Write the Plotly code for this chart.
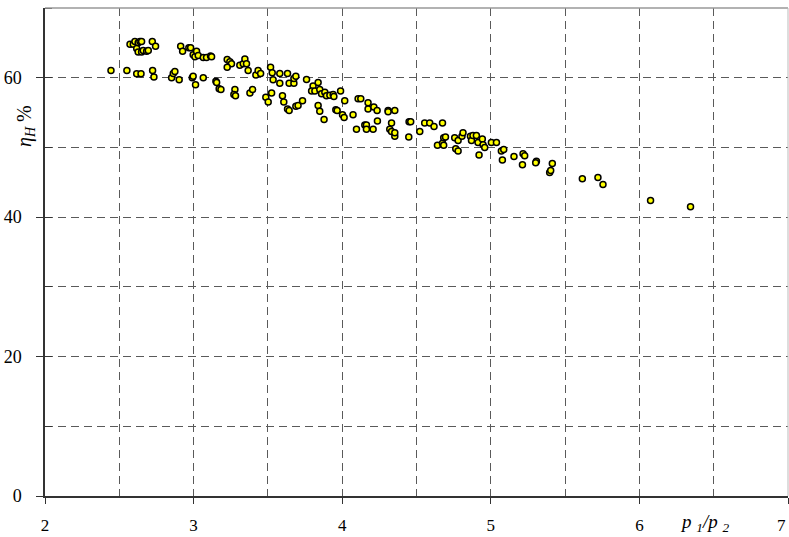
import plotly.graph_objects as go

# pressure ratio p1/p2
pressure_ratio = [
    2.444, 2.551, 2.617, 2.646, 2.724, 2.733,
    2.572, 2.594, 2.605, 2.627, 2.639, 2.650, 2.617, 2.627, 2.650, 2.661, 2.684, 2.695, 2.722, 2.744,
    2.852, 2.863, 2.874, 2.903, 2.913, 2.926, 2.968, 2.980, 2.991, 2.997, 3.013, 3.065,
    2.997, 3.009, 3.020, 3.031, 3.065, 3.087, 3.114, 3.121,
    3.150, 3.155, 3.172, 3.184, 3.226, 3.244, 3.255, 3.226, 3.278, 3.271, 3.282,
    3.311, 3.334, 3.345, 3.356, 3.367, 3.379, 3.397, 3.419, 3.434, 3.451,
    3.486, 3.502, 3.525, 3.518, 3.529, 3.535, 3.580, 3.632, 3.580, 3.643, 3.675, 3.675, 3.688,
    3.598, 3.607, 3.632, 3.643, 3.688, 3.703,
    3.760, 3.733, 3.804, 3.794, 3.816, 3.838, 3.849, 3.861, 3.883, 3.894, 3.917, 3.939, 3.944, 3.989,
    3.838, 3.849, 3.878, 3.957, 3.966, 4.002, 4.013, 4.017, 4.073, 4.096, 4.107, 4.125,
    4.152, 4.163, 4.163, 4.174, 4.174, 4.208, 4.213, 4.235, 4.237, 4.309, 4.309, 4.354,
    4.320, 4.332, 4.332, 4.354, 4.354, 4.450, 4.461, 4.448, 4.522, 4.555, 4.589, 4.618, 4.675,
    4.641, 4.675, 4.683, 4.683, 4.695, 4.757, 4.780, 4.806, 4.813, 4.764, 4.780,
    4.863, 4.870, 4.880, 4.903, 4.914, 4.943, 4.921, 4.948, 4.959, 5.004, 5.038,
    5.071, 5.087, 5.078, 5.156, 5.217, 5.228, 5.213, 5.307, 5.302, 5.396, 5.403, 5.414,
    5.616, 5.721, 5.755, 6.075, 6.344,
]

# efficiency eta_H, %
efficiency = [
    61.05, 61.05, 60.58, 60.58, 61.05, 60.1,
    64.8, 64.8, 65.2, 65.0, 65.2, 65.2, 64.2, 63.7, 63.7, 63.9, 63.8, 63.9, 65.2, 64.5,
    60.0, 60.6, 60.9, 59.7, 64.5, 63.8, 64.3, 64.3, 60.0, 60.2, 59.0, 60.0,
    63.3, 63.0, 63.8, 63.2, 62.9, 62.9, 63.1, 63.0,
    59.5, 59.3, 58.4, 58.3, 62.6, 62.3, 62.0, 61.5, 58.3, 57.6, 57.4,
    61.8, 62.0, 62.7, 62.0, 61.05, 57.8, 58.3, 60.4, 61.05, 60.6,
    57.2, 56.5, 57.8, 61.5, 60.7, 59.7, 60.6, 60.6, 59.2, 59.2, 59.2, 59.9, 60.2,
    57.4, 56.5, 55.5, 55.3, 55.9, 56.0,
    59.76, 56.7, 58.8, 58.1, 58.1, 59.3, 58.3, 57.7, 57.9, 57.4, 57.5, 57.6, 57.3, 58.1,
    56.0, 55.2, 54.0, 55.4, 55.3, 54.7, 54.3, 56.7, 54.7, 52.6, 57.0, 57.0,
    53.2, 53.2, 52.6, 56.4, 55.5, 52.6, 55.8, 55.3, 53.8, 55.3, 55.1, 55.3,
    52.6, 53.5, 52.3, 51.6, 52.1, 53.7, 53.7, 51.5, 52.3, 53.5, 53.5, 53.0, 53.5,
    50.3, 50.6, 50.3, 51.4, 51.5, 51.4, 51.0, 51.6, 52.1, 49.8, 49.5,
    51.6, 51.0, 51.7, 51.7, 50.7, 51.2, 48.9, 50.4, 50.0, 50.7, 50.7,
    49.5, 49.7, 48.2, 48.7, 49.1, 48.8, 47.5, 48.0, 47.8, 46.4, 46.7, 47.7,
    45.5, 45.7, 44.7, 42.4, 41.5,
]

x_ticks = [2, 3, 4, 5, 6]
y_ticks = [0, 20, 40, 60]

FONT = "Liberation Serif, Times New Roman, serif"
GRID = "#5a5a5a"

fig = go.Figure()
fig.add_trace(go.Scatter(
    x=pressure_ratio, y=efficiency, mode="markers",
    marker=dict(size=6, color="#ffff00", line=dict(color="#000000", width=1.5)),
    showlegend=False, hoverinfo="x+y",
))

fig.update_layout(
    width=789, height=537,
    margin=dict(l=45, r=1, t=8, b=41, autoexpand=False),
    paper_bgcolor="white", plot_bgcolor="white",
    font=dict(family=FONT, size=15, color="black"),
    xaxis=dict(
        range=[2, 7], tickvals=x_ticks + [7], ticktext=[str(v) for v in x_ticks] + [""],
        automargin=False,
        showgrid=True, gridcolor=GRID, gridwidth=1, griddash="8px,5px",
        minor=dict(dtick=0.5, showgrid=True, gridcolor=GRID, gridwidth=1,
                   griddash="8px,5px", ticks=""),
        showline=True, linecolor="#333333", linewidth=1.5, mirror=False,
        ticks="outside", ticklen=6, tickcolor="#333333", tickwidth=1,
        ticklabelstandoff=7, zeroline=False,
        tickfont=dict(family=FONT, size=17),
    ),
    yaxis=dict(
        range=[0, 70], tickvals=y_ticks, ticktext=[str(v) for v in y_ticks],
        automargin=False,
        showgrid=True, gridcolor=GRID, gridwidth=1, griddash="8px,5px",
        minor=dict(dtick=10, showgrid=True, gridcolor=GRID, gridwidth=1,
                   griddash="8px,5px", ticks="inside", ticklen=7,
                   tickcolor="#333333"),
        showline=True, linecolor="#333333", linewidth=1.5, mirror=False,
        ticks="outside", ticklen=7, tickcolor="#333333", tickwidth=1,
        ticklabelstandoff=11, zeroline=False,
        tickfont=dict(family=FONT, size=18),
    ),
    shapes=[
        dict(type="line", xref="paper", yref="paper", x0=0, x1=1, y0=1, y1=1,
             line=dict(color="#999999", width=1.5)),
        dict(type="line", xref="paper", yref="paper", x0=1, x1=1, y0=0, y1=1,
             line=dict(color="#bbbbbb", width=1)),
    ],
    annotations=[
        dict(text="<i>η<sub>H</sub></i> %", xref="paper", yref="paper",
             x=-0.027, y=0.758, xanchor="center", yanchor="middle",
             textangle=-90, showarrow=False,
             font=dict(family=FONT, size=20)),
        dict(text="<i>p <sub>1</sub>/p <sub>2</sub></i>", xref="paper", yref="paper",
             x=0.887, y=-0.056, xanchor="center", yanchor="middle",
             showarrow=False, font=dict(family=FONT, size=19)),
        dict(text="7", xref="paper", yref="paper",
             x=1.0, y=-0.06, xanchor="right", yanchor="middle",
             showarrow=False, font=dict(family=FONT, size=17)),
    ],
)

fig.write_html(
    "out.html",
    config={"displayModeBar": False},
    post_script="document.body.style.margin='0px';document.body.style.overflow='hidden';",
)
